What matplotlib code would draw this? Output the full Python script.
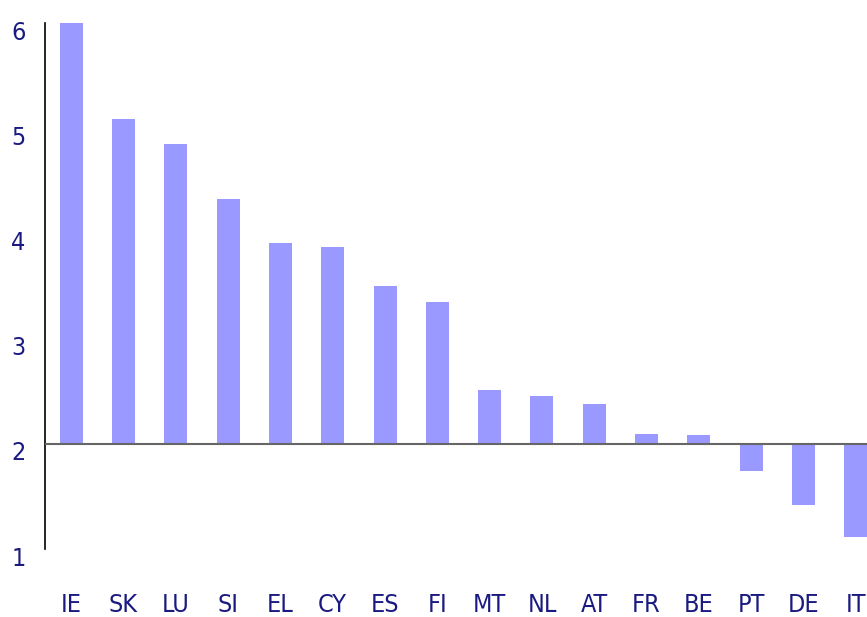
import matplotlib.pyplot as plt
import matplotlib.transforms as mtransforms

countries = ["IE", "SK", "LU", "SI", "EL", "CY", "ES", "FI",
             "MT", "NL", "AT", "FR", "BE", "PT", "DE", "IT"]
values = [6.0, 5.09, 4.85, 4.33, 3.91, 3.87, 3.50, 3.35,
          2.51, 2.45, 2.38, 2.09, 2.08, 1.74, 1.42, 1.11]
y_ticks = [1, 2, 3, 4, 5, 6]

base = 2.0
bar_color = "#9999ff"
text_color = "#1a1a80"

fig = plt.figure(figsize=(8.67, 6.17), dpi=100)
# axes run a bit past the right edge, as in the original crop
ax = fig.add_axes([45 / 867, 68 / 617, 837 / 867, 526 / 617])

x = list(range(len(countries)))
heights = [v - base for v in values]
ax.bar(x, heights, bottom=base, width=0.44, color=bar_color, zorder=2)
ax.axhline(base, color="#666666", linewidth=1.5, zorder=3)

ax.set_xlim(-0.5, len(countries) - 0.5)
ax.set_ylim(1, 6)

for side in ["top", "right", "bottom"]:
    ax.spines[side].set_visible(False)
ax.spines["left"].set_color("black")
ax.spines["left"].set_linewidth(1.2)

ax.set_yticks(y_ticks)
ax.set_yticklabels([str(t) for t in y_ticks])
ax.set_xticks(x)
ax.set_xticklabels(countries)
ax.tick_params(axis="both", length=0, colors=text_color, labelsize=18)
ax.tick_params(axis="y", pad=14)
ax.tick_params(axis="x", pad=32)
for lab in ax.get_xticklabels() + ax.get_yticklabels():
    lab.set_fontfamily("DejaVu Sans")
    lab.set_fontstretch("condensed")

# y labels sit a few pixels low in the original
shift = mtransforms.ScaledTranslation(0, -7 / 100, fig.dpi_scale_trans)
for lab in ax.get_yticklabels():
    lab.set_transform(lab.get_transform() + shift)

fig.savefig("out.png", dpi=100)
